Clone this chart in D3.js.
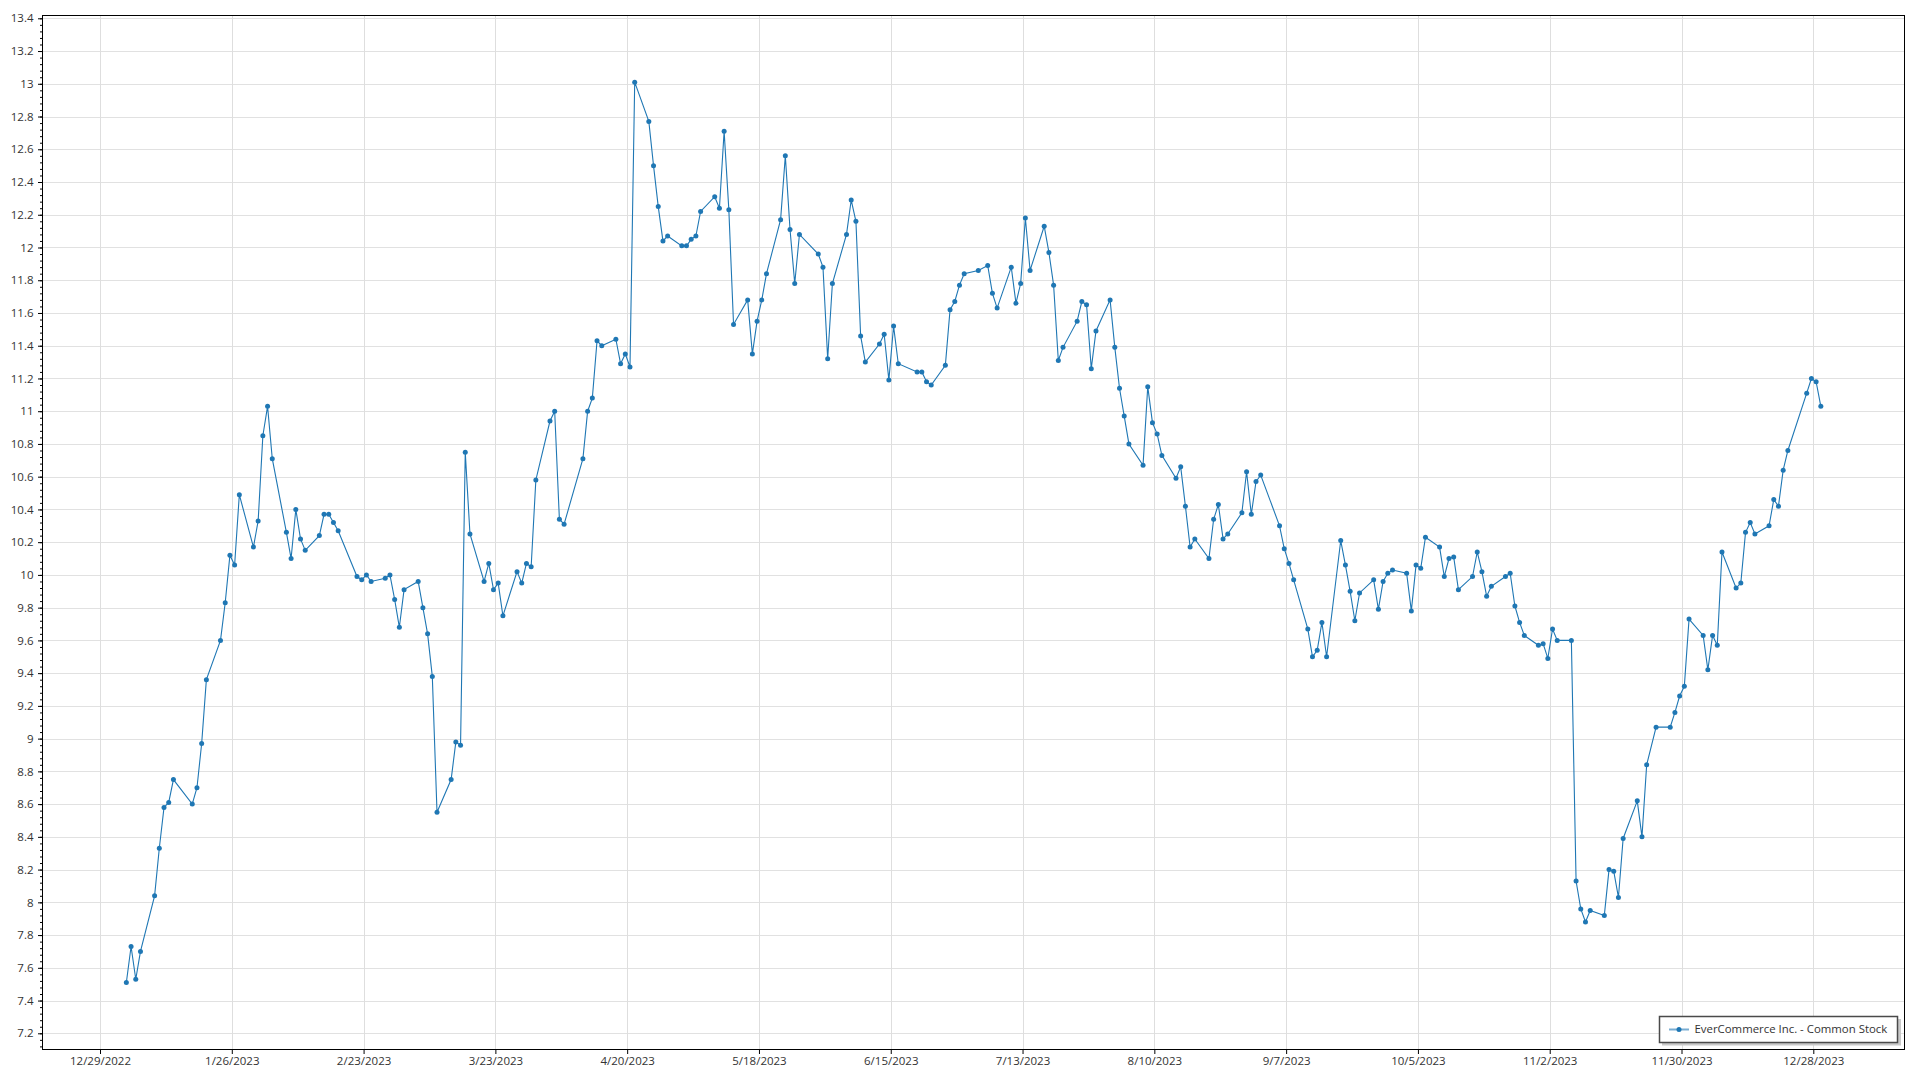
<!DOCTYPE html>
<html>
<head>
<meta charset="utf-8">
<script src="https://cdn.jsdelivr.net/npm/d3@7"></script>
<style>
  body { margin: 0; background: #fff; }
  svg { display: block; }
  text { font-family: "Segoe UI", "Open Sans", "Noto Sans", sans-serif; }
</style>
</head>
<body>
<svg id="chart" width="1920" height="1080"></svg>
<script>
// ---------------- DATA ----------------
const seriesName = "EverCommerce Inc. - Common Stock";

const dates = [
  "2023-01-03","2023-01-04","2023-01-05","2023-01-06","2023-01-09","2023-01-10","2023-01-11","2023-01-12","2023-01-13",
  "2023-01-17","2023-01-18","2023-01-19","2023-01-20","2023-01-23","2023-01-24","2023-01-25","2023-01-26","2023-01-27",
  "2023-01-30","2023-01-31","2023-02-01","2023-02-02","2023-02-03","2023-02-06","2023-02-07","2023-02-08","2023-02-09",
  "2023-02-10","2023-02-13","2023-02-14","2023-02-15","2023-02-16","2023-02-17","2023-02-21","2023-02-22","2023-02-23",
  "2023-02-24","2023-02-27","2023-02-28","2023-03-01","2023-03-02","2023-03-03","2023-03-06","2023-03-07","2023-03-08",
  "2023-03-09","2023-03-10","2023-03-13","2023-03-14","2023-03-15","2023-03-16","2023-03-17","2023-03-20","2023-03-21",
  "2023-03-22","2023-03-23","2023-03-24","2023-03-27","2023-03-28","2023-03-29","2023-03-30","2023-03-31","2023-04-03",
  "2023-04-04","2023-04-05","2023-04-06","2023-04-10","2023-04-11","2023-04-12","2023-04-13","2023-04-14","2023-04-17",
  "2023-04-18","2023-04-19","2023-04-20","2023-04-21","2023-04-24","2023-04-25","2023-04-26","2023-04-27","2023-04-28",
  "2023-05-01","2023-05-02","2023-05-03","2023-05-04","2023-05-05","2023-05-08","2023-05-09","2023-05-10","2023-05-11",
  "2023-05-12","2023-05-15","2023-05-16","2023-05-17","2023-05-18","2023-05-19","2023-05-22","2023-05-23","2023-05-24",
  "2023-05-25","2023-05-26","2023-05-30","2023-05-31","2023-06-01","2023-06-02","2023-06-05","2023-06-06","2023-06-07",
  "2023-06-08","2023-06-09","2023-06-12","2023-06-13","2023-06-14","2023-06-15","2023-06-16","2023-06-20","2023-06-21",
  "2023-06-22","2023-06-23","2023-06-26","2023-06-27","2023-06-28","2023-06-29","2023-06-30","2023-07-03","2023-07-05",
  "2023-07-06","2023-07-07","2023-07-10","2023-07-11","2023-07-12","2023-07-13","2023-07-14","2023-07-17","2023-07-18",
  "2023-07-19","2023-07-20","2023-07-21","2023-07-24","2023-07-25","2023-07-26","2023-07-27","2023-07-28","2023-07-31",
  "2023-08-01","2023-08-02","2023-08-03","2023-08-04","2023-08-07","2023-08-08","2023-08-09","2023-08-10","2023-08-11",
  "2023-08-14","2023-08-15","2023-08-16","2023-08-17","2023-08-18","2023-08-21","2023-08-22","2023-08-23","2023-08-24",
  "2023-08-25","2023-08-28","2023-08-29","2023-08-30","2023-08-31","2023-09-01","2023-09-05","2023-09-06","2023-09-07",
  "2023-09-08","2023-09-11","2023-09-12","2023-09-13","2023-09-14","2023-09-15","2023-09-18","2023-09-19","2023-09-20",
  "2023-09-21","2023-09-22","2023-09-25","2023-09-26","2023-09-27","2023-09-28","2023-09-29","2023-10-02","2023-10-03",
  "2023-10-04","2023-10-05","2023-10-06","2023-10-09","2023-10-10","2023-10-11","2023-10-12","2023-10-13","2023-10-16",
  "2023-10-17","2023-10-18","2023-10-19","2023-10-20","2023-10-23","2023-10-24","2023-10-25","2023-10-26","2023-10-27",
  "2023-10-30","2023-10-31","2023-11-01","2023-11-02","2023-11-03","2023-11-06","2023-11-07","2023-11-08","2023-11-09",
  "2023-11-10","2023-11-13","2023-11-14","2023-11-15","2023-11-16","2023-11-17","2023-11-20","2023-11-21","2023-11-22",
  "2023-11-24","2023-11-27","2023-11-28","2023-11-29","2023-11-30","2023-12-01","2023-12-04","2023-12-05","2023-12-06",
  "2023-12-07","2023-12-08","2023-12-11","2023-12-12","2023-12-13","2023-12-14","2023-12-15","2023-12-18","2023-12-19",
  "2023-12-20","2023-12-21","2023-12-22","2023-12-26","2023-12-27","2023-12-28","2023-12-29"
];

const closes = [
  7.51, 7.73, 7.53, 7.70, 8.04, 8.33, 8.58, 8.61, 8.75,
  8.60, 8.70, 8.97, 9.36, 9.60, 9.83, 10.12, 10.06, 10.49,
  10.17, 10.33, 10.85, 11.03, 10.71, 10.26, 10.10, 10.40, 10.22,
  10.15, 10.24, 10.37, 10.37, 10.32, 10.27, 9.99, 9.97, 10.00,
  9.96, 9.98, 10.00, 9.85, 9.68, 9.91, 9.96, 9.80, 9.64,
  9.38, 8.55, 8.75, 8.98, 8.96, 10.75, 10.25, 9.96, 10.07,
  9.91, 9.95, 9.75, 10.02, 9.95, 10.07, 10.05, 10.58, 10.94,
  11.00, 10.34, 10.31, 10.71, 11.00, 11.08, 11.43, 11.40, 11.44,
  11.29, 11.35, 11.27, 13.01, 12.77, 12.50, 12.25, 12.04, 12.07,
  12.01, 12.01, 12.05, 12.07, 12.22, 12.31, 12.24, 12.71, 12.23,
  11.53, 11.68, 11.35, 11.55, 11.68, 11.84, 12.17, 12.56, 12.11,
  11.78, 12.08, 11.96, 11.88, 11.32, 11.78, 12.08, 12.29, 12.16,
  11.46, 11.30, 11.41, 11.47, 11.19, 11.52, 11.29, 11.24, 11.24,
  11.18, 11.16, 11.28, 11.62, 11.67, 11.77, 11.84, 11.86, 11.89,
  11.72, 11.63, 11.88, 11.66, 11.78, 12.18, 11.86, 12.13, 11.97,
  11.77, 11.31, 11.39, 11.55, 11.67, 11.65, 11.26, 11.49, 11.68,
  11.39, 11.14, 10.97, 10.80, 10.67, 11.15, 10.93, 10.86, 10.73,
  10.59, 10.66, 10.42, 10.17, 10.22, 10.10, 10.34, 10.43, 10.22,
  10.25, 10.38, 10.63, 10.37, 10.57, 10.61, 10.30, 10.16, 10.07,
  9.97, 9.67, 9.50, 9.54, 9.71, 9.50, 10.21, 10.06, 9.90,
  9.72, 9.89, 9.97, 9.79, 9.96, 10.01, 10.03, 10.01, 9.78,
  10.06, 10.04, 10.23, 10.17, 9.99, 10.10, 10.11, 9.91, 9.99,
  10.14, 10.02, 9.87, 9.93, 9.99, 10.01, 9.81, 9.71, 9.63,
  9.57, 9.58, 9.49, 9.67, 9.60, 9.60, 8.13, 7.96, 7.88,
  7.95, 7.92, 8.20, 8.19, 8.03, 8.39, 8.62, 8.40, 8.84,
  9.07, 9.07, 9.16, 9.26, 9.32, 9.73, 9.63, 9.42, 9.63,
  9.57, 10.14, 9.92, 9.95, 10.26, 10.32, 10.25, 10.30, 10.46,
  10.42, 10.64, 10.76, 11.11, 11.20, 11.18, 11.03
];

const xTickLabels = ["12/29/2022","1/26/2023","2/23/2023","3/23/2023","4/20/2023","5/18/2023","6/15/2023",
  "7/13/2023","8/10/2023","9/7/2023","10/5/2023","11/2/2023","11/30/2023","12/28/2023"];
const yTickLabels = ["7.2","7.4","7.6","7.8","8","8.2","8.4","8.6","8.8","9","9.2","9.4","9.6","9.8","10",
  "10.2","10.4","10.6","10.8","11","11.2","11.4","11.6","11.8","12","12.2","12.4","12.6","12.8","13","13.2","13.4"];

// ---------------- SETUP ----------------
const svg = d3.select("#chart");
const frame = { left: 42.5, right: 1904.5, top: 15.5, bottom: 1049.5 };
const sessionHours = 14.4; // points sit at the session timestamp within the day

const parseDay = d3.utcParse("%Y-%m-%d");
const parseTick = d3.utcParse("%m/%d/%Y");
const data = dates.map((d, i) => ({ t: new Date(parseDay(d).getTime() + sessionHours * 3600e3), v: closes[i] }));
const xTicks = xTickLabels.map(s => parseTick(s));
const yTicks = yTickLabels.map(Number);

const x = d3.scaleUtc().domain([xTicks[0], xTicks[xTicks.length - 1]]).range([100, 1813.3]);
const y = d3.scaleLinear().domain([7.2, 13.4]).range([1033.3, 18.3]);

svg.append("rect").attr("width", 1920).attr("height", 1080).attr("fill", "#fff");

// grid
const grid = svg.append("g").attr("shape-rendering", "crispEdges");
grid.selectAll("line.h").data(yTicks).join("line")
  .attr("x1", frame.left).attr("x2", frame.right)
  .attr("y1", d => Math.round(y(d)) + 0.5).attr("y2", d => Math.round(y(d)) + 0.5)
  .attr("stroke", "#e1e1e1").attr("stroke-width", 1);
grid.selectAll("line.v").data(xTicks).join("line")
  .attr("x1", d => Math.round(x(d)) + 0.5).attr("x2", d => Math.round(x(d)) + 0.5)
  .attr("y1", frame.top).attr("y2", frame.bottom)
  .attr("stroke", "#dedede").attr("stroke-width", 1);

// minor y ticks
const minorY = d3.range(7.12, 13.42, 0.04).map(v => +v.toFixed(2)).filter(v => v > 7.1 && v < 13.42);
const yMinorAxis = d3.axisLeft(y).tickValues(minorY).tickSize(2.5).tickFormat("");
svg.append("g").attr("transform", `translate(${frame.left},0)`).call(yMinorAxis)
  .call(g => g.select(".domain").remove())
  .call(g => g.selectAll("line").attr("stroke", "#000"));

// y axis
const yAxis = d3.axisLeft(y).tickValues(yTicks).tickSize(4.5).tickPadding(4.5)
  .tickFormat((d, i) => yTickLabels[i]);
svg.append("g").attr("transform", `translate(${frame.left},0)`).call(yAxis)
  .call(g => g.select(".domain").remove())
  .call(g => g.selectAll("line").attr("stroke", "#000"))
  .call(g => g.selectAll("text").attr("font-size", 11.5).attr("fill", "#333")
    .attr("font-family", '"Segoe UI","Open Sans",sans-serif'));

// x axis
const xAxis = d3.axisBottom(x).tickValues(xTicks).tickSize(4.5).tickPadding(3)
  .tickFormat((d, i) => xTickLabels[i]);
svg.append("g").attr("transform", `translate(0,${frame.bottom})`).call(xAxis)
  .call(g => g.select(".domain").remove())
  .call(g => g.selectAll("line").attr("stroke", "#000"))
  .call(g => g.selectAll("text").attr("font-size", 11.5).attr("fill", "#333")
    .attr("font-family", '"Segoe UI","Open Sans",sans-serif'));

// frame
svg.append("rect")
  .attr("x", frame.left).attr("y", frame.top)
  .attr("width", frame.right - frame.left).attr("height", frame.bottom - frame.top)
  .attr("fill", "none").attr("stroke", "#000").attr("stroke-width", 1)
  .attr("shape-rendering", "crispEdges");

// series
const color = "#1f77b4";
svg.append("path").datum(data)
  .attr("fill", "none").attr("stroke", color).attr("stroke-width", 1.1)
  .attr("d", d3.line().x(d => x(d.t)).y(d => y(d.v)));
svg.append("g").selectAll("circle").data(data).join("circle")
  .attr("cx", d => x(d.t)).attr("cy", d => y(d.v)).attr("r", 2.5)
  .attr("fill", color);

// legend
const lg = svg.append("g");
lg.append("rect").attr("x", 1662).attr("y", 1019).attr("width", 239).attr("height", 26.5)
  .attr("fill", "#c9c9c9");
lg.append("rect").attr("x", 1659.5).attr("y", 1016.5).attr("width", 238).attr("height", 26)
  .attr("fill", "#fff").attr("stroke", "#4a4a4a").attr("stroke-width", 1.5);
lg.append("line").attr("x1", 1669).attr("x2", 1689).attr("y1", 1029.5).attr("y2", 1029.5)
  .attr("stroke", color).attr("stroke-opacity", 0.6).attr("stroke-width", 2);
lg.append("circle").attr("cx", 1679).attr("cy", 1029.5).attr("r", 2.5).attr("fill", color);
lg.append("text").attr("x", 1694.5).attr("y", 1029.5).attr("dy", "0.35em")
  .attr("font-size", 11.4).attr("fill", "#333").text(seriesName);
</script>
</body>
</html>
